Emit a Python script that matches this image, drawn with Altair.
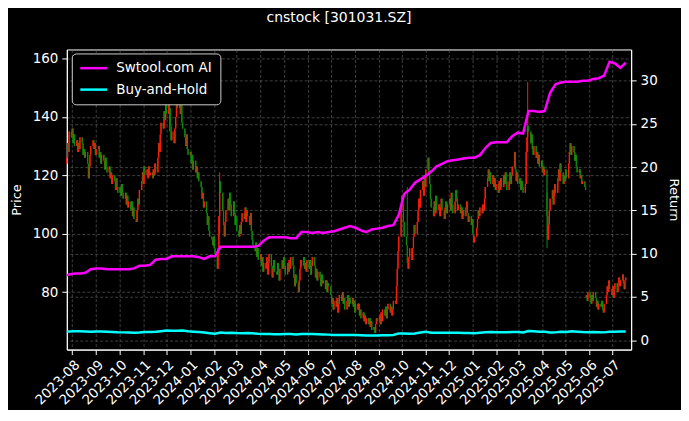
import altair as alt
import pandas as pd

# ---- daily closing prices (trading days 2023-07-25 .. 2025-07-18), one row per week ----
closes = [
    126, 131, 128, 135,
    133, 136, 131, 134, 130,
    132, 128, 131, 129, 133,
    131, 127, 129, 126, 128,
    124, 119, 123, 127, 130,
    132, 129, 131, 127, 129,
    130, 126, 128, 124, 127,
    125, 122, 126, 123, 121,
    123, 119, 121, 117, 120,
    118, 115, 119, 116, 114,
    116, 113, 117, 114, 112,
    114, 110, 113, 109, 111,
    108, 111, 106, 109, 105,
    104, 108, 112, 110, 115,
    118, 121, 117, 123, 120,
    122, 119, 123, 120, 121,
    119, 122, 120, 124, 121,
    126, 131, 128, 134, 138,
    136, 142, 139, 145, 141,
    147, 143, 137, 132, 135,
    131, 136, 140, 146, 143,
    147, 141, 144, 138, 136,
    133, 130, 134, 129, 127,
    128, 124, 127, 122, 125,
    121, 123, 119, 121, 118,
    116, 112, 114, 109, 111,
    107, 103, 106, 101, 99,
    98, 96, 99, 95, 93,
    88, 95, 106, 118, 114,
    108, 103, 99, 104, 108,
    112, 108, 114, 110, 106,
    111, 107, 103, 106, 101,
    99, 103, 100, 104, 107,
    105, 109, 104, 108, 106,
    103, 107, 101, 98, 96,
    94, 97, 92, 95, 91,
    93, 89, 92, 87, 90,
    88, 92, 86, 90, 93,
    89, 85, 88, 91, 87,
    86, 90, 87, 84, 88,
    91, 88, 92, 89, 86,
    90, 87, 91, 88, 92,
    89, 85, 82, 86, 83,
    80, 84, 88, 91, 89,
    92, 88, 90, 87, 91,
    88, 91, 86, 89, 92,
    89, 85, 88, 84, 87,
    85, 82, 86, 83, 84,
    81, 84, 80, 83, 82,
    79, 76, 78, 74, 77,
    75, 78, 73, 76, 79,
    77, 80, 76, 78, 74,
    77, 79, 75, 78, 76,
    78, 75, 77, 73, 76,
    74, 76, 72, 74, 71,
    73, 70, 72, 69, 71,
    69, 71, 68, 70, 67,
    68, 66, 69, 71, 70,
    72, 69, 73, 70, 74,
    72, 75, 71, 74, 76,
    73, 75, 72, 74, 77,
    76, 82, 88, 94, 99,
    108, 113, 110, 104, 99,
    96, 90, 88, 92, 95,
    91, 95, 99, 103, 100,
    104, 108, 112, 109, 115,
    118, 113, 120, 116, 122,
    126, 121, 117, 112, 109,
    106, 111, 107, 113, 108,
    110, 106, 109, 112, 108,
    105, 109, 111, 107, 110,
    112, 108, 114, 110, 107,
    111, 115, 112, 108, 110,
    107, 109, 105, 108, 106,
    109, 111, 107, 104, 106,
    103, 105, 100, 97, 99,
    102, 105, 108, 106, 109,
    107, 110, 108, 112, 116,
    119, 122, 118, 121, 117,
    120, 116, 119, 115, 117,
    114, 118, 115, 119, 116,
    120, 117, 121, 118, 115,
    118, 121, 117, 120, 123,
    128, 122, 118, 121, 117,
    119, 115, 118, 116, 114,
    117, 128, 133, 137, 135,
    131, 134, 129, 127, 130,
    126, 128, 124, 127, 123,
    125, 121, 123, 120, 122,
    106, 98, 103, 108, 112,
    115, 110, 113, 117, 114,
    119, 122, 118, 124, 121,
    117, 120, 118, 122, 119,
    124, 128, 131, 127, 130,
    128, 125, 127, 123, 121,
    122, 119, 120, 117, 118,
    116, 115, 79, 77, 80,
    78, 76, 79, 77, 80,
    78, 75, 77, 74, 76,
    75, 77, 74, 73, 76,
    79, 82, 80, 84, 81,
    79, 82, 78, 81, 83,
    80, 83, 85, 82, 84,
    86, 83, 81, 84, 85,
]
first_open = 124
gap_open_dates = ["2025-05-28"]
gap_open_values = [78]

# long wicks visible in the picture
spike_dates = ["2023-12-05", "2024-02-08", "2024-10-08", "2025-03-13", "2025-04-07"]
spike_hi = [149, 121, 116, 152, 114]
spike_lo = [135, 100, 99, 128, 95]

# ---- weekly strategy returns (start + Fridays) ----
ai_return = [
    7.5,
    7.6, 7.7, 7.7, 7.8, 8.2, 8.3, 8.3, 8.2, 8.2, 8.2,
    8.2, 8.2, 8.3, 8.6, 8.6, 8.7, 9.3, 9.4, 9.4, 9.7,
    9.7, 9.7, 9.7, 9.7, 9.6, 9.4, 9.7, 9.7, 10.8, 10.8,
    10.8, 10.8, 10.8, 10.8, 10.8, 10.9, 11.5, 11.9, 11.9, 11.9,
    11.9, 11.8, 11.8, 12.5, 12.5, 12.4, 12.5, 12.4, 12.5, 12.6,
    12.8, 13.0, 13.2, 13.0, 12.7, 12.5, 12.8, 12.9, 13.0, 13.2,
    13.3, 14.5, 16.9, 17.4, 18.2, 18.6, 19.0, 19.5, 20.1, 20.4,
    20.7, 20.8, 20.9, 21.0, 21.1, 21.1, 21.4, 22.2, 22.8, 22.9,
    22.9, 22.9, 23.6, 24.0, 23.9, 26.5, 26.5, 26.4, 26.5, 28.6,
    29.6, 29.8, 29.9, 29.9, 29.9, 30.0, 30.0, 30.2, 30.3, 30.6,
    32.2, 32.0, 31.5, 32.1,
]
bh_return = [
    1.00,
    1.00, 1.04, 1.02, 1.00, 0.98, 1.01, 0.99, 0.97, 0.94, 0.91,
    0.90, 0.88, 0.85, 0.88, 0.94, 0.95, 0.96, 1.04, 1.11, 1.08,
    1.10, 1.11, 1.03, 0.98, 0.94, 0.88, 0.81, 0.75, 0.88, 0.82,
    0.86, 0.82, 0.81, 0.84, 0.79, 0.73, 0.71, 0.71, 0.69, 0.69,
    0.70, 0.71, 0.66, 0.70, 0.71, 0.70, 0.68, 0.66, 0.64, 0.60,
    0.60, 0.60, 0.60, 0.59, 0.57, 0.55, 0.54, 0.54, 0.56, 0.58,
    0.59, 0.78, 0.78, 0.74, 0.78, 0.88, 0.96, 0.86, 0.86, 0.86,
    0.86, 0.86, 0.87, 0.84, 0.84, 0.79, 0.85, 0.91, 0.93, 0.92,
    0.92, 0.91, 0.95, 0.93, 0.90, 1.06, 1.02, 0.98, 0.96, 0.88,
    0.90, 0.96, 0.94, 1.02, 0.97, 0.93, 0.92, 0.93, 0.91, 0.90,
    0.97, 0.97, 1.00, 1.00,
]
series_names = ["Swtool.com AI", "Buy-and-Hold"]
price_ticks = [80, 100, 120, 140, 160]
return_ticks = [0, 5, 10, 15, 20, 25, 30]

# ---- tables ----
days = pd.bdate_range("2023-07-25", "2025-07-18")
day_str = list(days.strftime("%Y-%m-%d"))
opens = [first_open] + closes[:-1]
for d, v in zip(gap_open_dates, gap_open_values):
    opens[day_str.index(d)] = v
candles = pd.DataFrame({"date": day_str, "o": opens, "c": closes})
candles["hi"] = candles[["o", "c"]].max(axis=1)
candles["lo"] = candles[["o", "c"]].min(axis=1)
for d, h, l in zip(spike_dates, spike_hi, spike_lo):
    i = day_str.index(d)
    candles.loc[i, "hi"] = h
    candles.loc[i, "lo"] = l

line_dates = ["2023-07-25"] + list(
    pd.date_range("2023-07-28", "2025-07-18", freq="7D").strftime("%Y-%m-%d"))
lines_df = pd.concat([
    pd.DataFrame({"date": line_dates, "r": ai_return, "series": series_names[0]}),
    pd.DataFrame({"date": line_dates, "r": bh_return, "series": series_names[1]}),
])

month_ticks = [alt.DateTime(year=2023 + (7 + k) // 12, month=(7 + k) % 12 + 1, date=1)
               for k in range(24)]
x_scale = alt.Scale(domain=[alt.DateTime(year=2023, month=7, date=25),
                            alt.DateTime(year=2025, month=7, date=25)])

x_axis = alt.Axis(values=month_ticks, format="%Y-%m", labelAngle=-45, labelAlign="right",
                  labelBaseline="top", title=None, grid=True, labelPadding=3,
                  labelOverlap=False)
price_axis = alt.Axis(title="Price", values=price_ticks, orient="left", grid=True,
                      titlePadding=9)
price_scale = alt.Scale(domain=[60.3, 163.1], nice=False, zero=False)

up_color = alt.condition("datum.c >= datum.o", alt.value("#ff1a0a"), alt.value("#0a8a0a"))

wick = alt.Chart(candles).mark_rule(strokeWidth=1).encode(
    x=alt.X("date:T", scale=x_scale, axis=x_axis),
    y=alt.Y("lo:Q", scale=price_scale, axis=price_axis),
    y2="hi:Q",
    color=up_color,
)
body = alt.Chart(candles).mark_rule(strokeWidth=1.3).encode(
    x=alt.X("date:T", scale=x_scale, axis=x_axis),
    y=alt.Y("o:Q", scale=price_scale, axis=price_axis),
    y2="c:Q",
    color=up_color,
)
price_layer = alt.layer(wick, body)

lines = alt.Chart(lines_df).mark_line(strokeWidth=2.5).encode(
    x=alt.X("date:T", scale=x_scale, axis=x_axis),
    y=alt.Y("r:Q", scale=alt.Scale(domain=[-1.09, 33.62], nice=False, zero=False),
            axis=alt.Axis(title="Return", values=return_ticks, orient="right", grid=True,
                          titlePadding=9)),
    color=alt.Color("series:N", sort=series_names,
                    scale=alt.Scale(domain=series_names, range=["#ff00ff", "#00ffff"]),
                    legend=alt.Legend(title=None, orient="none", legendX=5, legendY=4,
                                      symbolType="M-1.25,0H4.15", symbolSize=100,
                                      symbolStrokeWidth=2.5, labelFontSize=13.5,
                                      labelColor="white", fillColor="black",
                                      strokeColor="#cccccc", cornerRadius=4, padding=8,
                                      labelOffset=23, rowPadding=6.5)),
)

chart = alt.layer(price_layer, lines).resolve_scale(y="independent").properties(
    width=566, height=301,
    padding={"left": 59, "top": 41, "right": 50, "bottom": 60},
    autosize=alt.AutoSizeParams(type="none"),
    title=alt.TitleParams("cnstock [301031.SZ]", color="white", fontSize=14,
                          fontWeight="normal", anchor="middle", offset=25, dx=-10,
                          font="DejaVu Sans"),
).configure(background="black", font="DejaVu Sans").configure_view(
    stroke="white", strokeWidth=1
).configure_axis(
    domainColor="white", tickColor="white", labelColor="white", titleColor="white",
    labelFontSize=13.5, titleFontSize=13, titleFontWeight="normal", labelFont="DejaVu Sans",
    titleFont="DejaVu Sans", gridColor="#6a6a6a", gridDash=[3, 2], gridWidth=0.6,
    tickSize=5, labelPadding=4,
).configure_legend(labelFont="DejaVu Sans")

chart.save("out.html", embed_options={"renderer": "svg", "actions": False})
